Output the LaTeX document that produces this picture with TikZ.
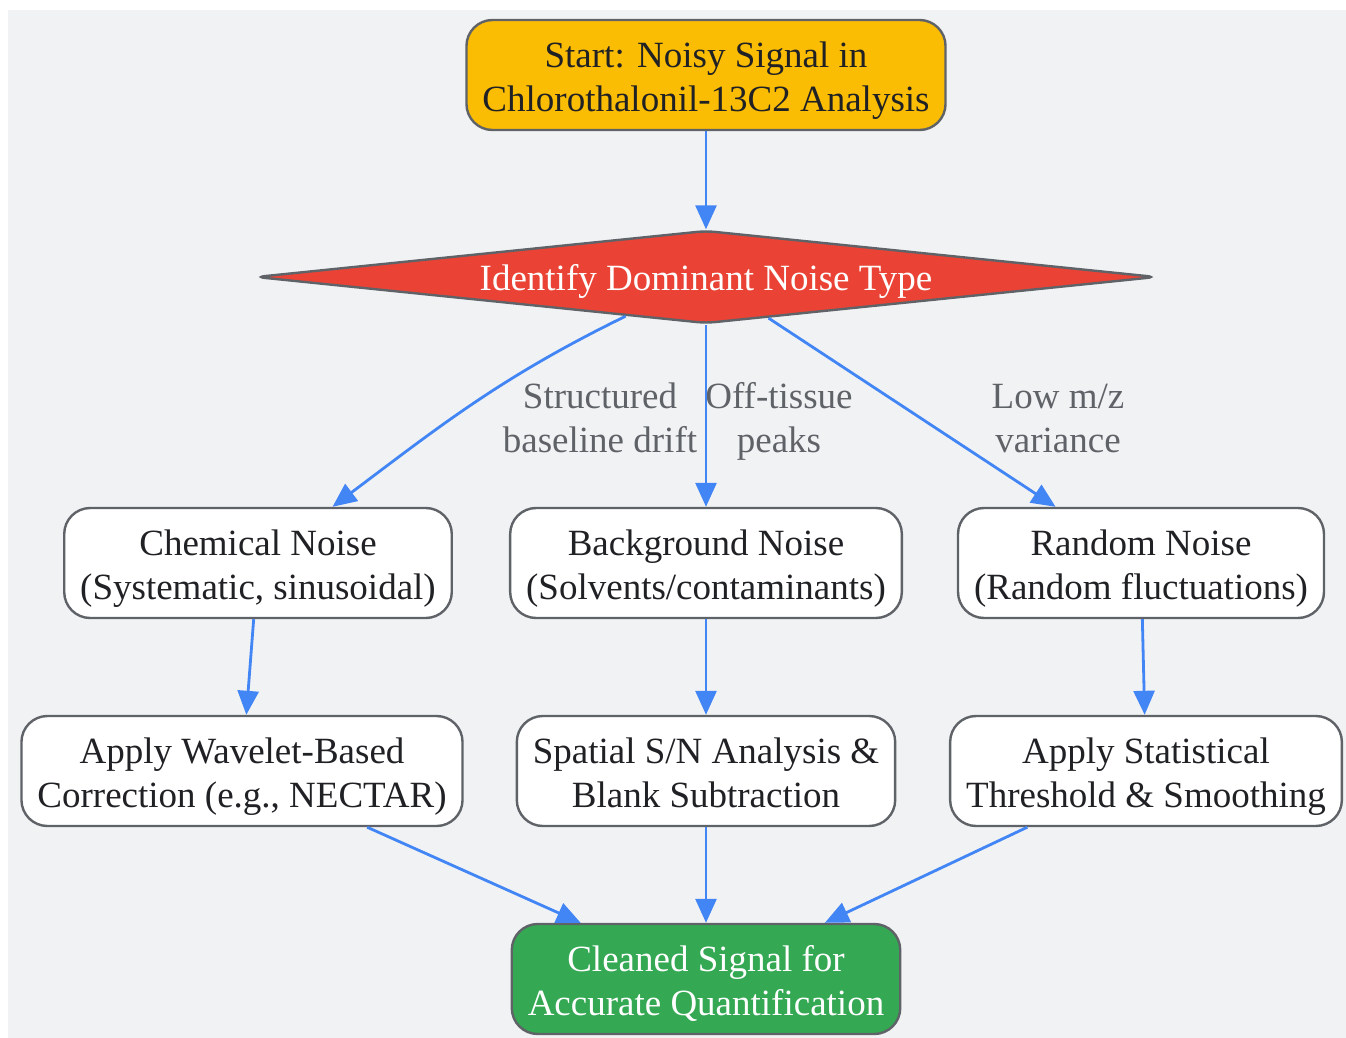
\documentclass[tikz,border=0pt]{standalone}
\usepackage{fontspec}
\setmainfont{Liberation Serif}
\usetikzlibrary{shapes.geometric,arrows.meta}
\definecolor{canvas}{HTML}{F1F2F4}
\definecolor{outline}{HTML}{5F6368}
\definecolor{ink}{HTML}{202124}
\definecolor{flowblue}{HTML}{4285F4}
\definecolor{startyellow}{HTML}{FBBC04}
\definecolor{decidered}{HTML}{EA4335}
\definecolor{endgreen}{HTML}{34A853}
\begin{document}
\begin{tikzpicture}[x=1pt,y=-1pt,
        every node/.style={font=\fontsize{37}{44}\selectfont,align=center,text=ink},
        box/.style={rectangle,rounded corners=26pt,draw=outline,line width=2.4pt,fill=white,
            minimum height=110pt,inner xsep=16pt,text height=81pt,text depth=8pt},
        decide/.style={diamond,aspect=9.7,inner sep=0pt,minimum width=901pt,minimum height=93pt,
            text height=30pt,text depth=4pt,
            rounded corners=9pt,draw=outline,line width=2.4pt,fill=decidered,text=white},
        lbl/.style={text=outline},
        flow/.style={color=flowblue,line width=2.8pt,-{Triangle[length=24pt,width=21pt]}}]
            \useasboundingbox (0,0) rectangle (1346,1038);
            \fill[canvas] (8,10) rectangle (1346,1038);

            \node[box,fill=startyellow] (S) at (706,75) {Start: Noisy Signal in\\Chlorothalonil-13C2 Analysis};
            \node[decide] (D) at (706,277) {Identify Dominant Noise Type};

            \node[box] (chem) at (258,563) {Chemical Noise\\(Systematic, sinusoidal)};
            \node[box] (bkg) at (706,563) {Background Noise\\(Solvents/contaminants)};
            \node[box] (rnd) at (1141,563) {Random Noise\\(Random fluctuations)};

            \node[box] (wav) at (242,771) {Apply Wavelet-Based\\Correction (e.g., NECTAR)};
            \node[box] (sn) at (706,771) {Spatial S/N Analysis \&\\Blank Subtraction};
            \node[box] (stat) at (1146,771) {Apply Statistical\\Threshold \& Smoothing};

            \node[box,fill=endgreen,text=white] (clean) at (706,979) {Cleaned Signal for\\Accurate Quantification};

            \node[lbl] (lchem) at (600,418) {Structured\\baseline drift};
            \node[lbl] (lbkg) at (779,421) {Off-tissue\\peaks};
            \node[lbl] (lrnd) at (1058,418) {Low m/z\\variance};

            \path (S) edge[flow] (D);
            \path (D) edge[flow,out=206,in=37] (chem);
            \path (D) edge[flow] (bkg);
            \path (D) edge[flow] (rnd);

            \path (chem) edge[flow] (wav);
            \path (bkg) edge[flow] (sn);
            \path (rnd) edge[flow] (stat);

            \path (wav) edge[flow] (clean);
            \path (sn) edge[flow] (clean);
            \path (stat) edge[flow] (clean);
        \end{tikzpicture}
\end{document}
